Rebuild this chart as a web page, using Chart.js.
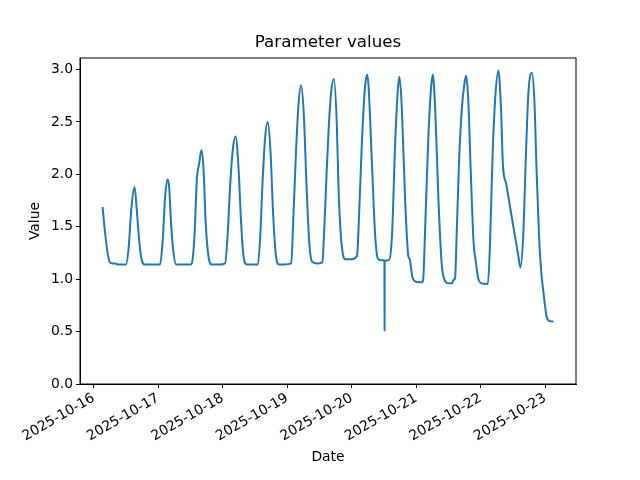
<!DOCTYPE html>
<html>
<head>
<meta charset="utf-8">
<script src="https://cdn.jsdelivr.net/npm/chart.js@4"></script>
<style>
  body { margin: 0; background: #fff; }
</style>
</head>
<body>
<canvas id="chart" width="640" height="480"></canvas>
<script>
// hours after 2025-10-16 00:00
const hours = [
  3.3, 4, 5, 6, 7, 8, 9, 10, 11, 12,
  13, 14, 15.2, 16, 17, 18, 19, 21, 23, 24.7,
  25.7, 26.6, 27.5, 28.1, 28.8, 29.7, 30.7, 33, 36, 36.5,
  37.5, 38.4, 39.3, 40.1, 40.9, 41.7, 42.7, 44, 47, 48.9,
  49.9, 50.8, 51.7, 52.8, 53.9, 54.9, 55.7, 57, 59, 61.1,
  62, 62.8, 63.8, 64.8, 65.8, 66.8, 67.8, 69, 71, 73.5,
  74.3, 75.2, 76.2, 77.2, 78.2, 79.2, 80.2, 81.2, 83, 85.1,
  85.5, 86.5, 87.4, 88.4, 89.4, 90.5, 91.1, 92, 92.9, 93.6,
  96, 98, 98.5, 99.8, 101, 101.8, 102.3, 103.5, 104.7, 105.7,
  107, 108.2, 108.25, 108.3, 109.7, 111, 112.2, 113.2, 113.8, 114.7,
  115.9, 117.1, 117.6, 118.6, 119.6, 121, 122.3, 122.7, 123.3, 124.6,
  125.6, 126.2, 127.1, 128.3, 129.5, 130.8, 132, 133.4, 133.8, 134.5,
  135.1, 136, 137, 138, 138.6, 139.4, 140.4, 141.4, 142.1, 143.1,
  144.4, 146.7, 147.5, 148.4, 149.4, 150.6, 151.6, 152.3, 153.5, 156,
  158, 158.8, 159.9, 160.8, 161.8, 163.1, 164, 164.9, 165.8, 166.5,
  167.4, 168.6, 169.8, 171.1
];
const values = [
  1.69, 1.50, 1.28, 1.16, 1.15, 1.15, 1.14, 1.14, 1.14, 1.14,
  1.30, 1.67, 1.88, 1.67, 1.35, 1.17, 1.14, 1.14, 1.14, 1.14,
  1.38, 1.79, 1.95, 1.87, 1.53, 1.25, 1.14, 1.14, 1.14, 1.15,
  1.41, 1.95, 2.11, 2.23, 2.04, 1.53, 1.22, 1.14, 1.14, 1.15,
  1.45, 1.90, 2.22, 2.36, 2.06, 1.52, 1.23, 1.14, 1.14, 1.14,
  1.42, 1.90, 2.35, 2.50, 2.22, 1.61, 1.23, 1.14, 1.14, 1.15,
  1.58, 2.16, 2.66, 2.85, 2.57, 1.90, 1.36, 1.17, 1.15, 1.16,
  1.30, 1.90, 2.41, 2.79, 2.91, 2.46, 1.88, 1.41, 1.22, 1.19,
  1.19, 1.22, 1.44, 2.30, 2.84, 2.95, 2.84, 2.14, 1.44, 1.20,
  1.18, 1.18, 0.51, 1.17, 1.18, 1.41, 2.30, 2.81, 2.93, 2.62,
  1.76, 1.22, 1.19, 1.02, 0.98, 0.97, 0.97, 1.02, 1.44, 2.39,
  2.84, 2.95, 2.62, 1.76, 1.15, 0.98, 0.96, 0.96, 0.99, 1.01,
  1.44, 2.14, 2.62, 2.87, 2.94, 2.71, 1.98, 1.34, 1.19, 1.01,
  0.96, 0.955, 1.34, 2.14, 2.71, 2.99, 2.62, 2.09, 1.91, 1.53,
  1.23, 1.11, 1.44, 2.14, 2.78, 2.97, 2.71, 1.98, 1.38, 1.09,
  0.87, 0.64, 0.60, 0.595
];
const dateLabels = ['2025-10-16', '2025-10-17', '2025-10-18', '2025-10-19',
                    '2025-10-20', '2025-10-21', '2025-10-22', '2025-10-23'];

const font = { family: 'DejaVu Sans', size: 13.9 };

// matplotlib style box round the plot
const frame = {
  id: 'frame',
  afterDraw(chart) {
    const { ctx, chartArea: a } = chart;
    ctx.save();
    ctx.strokeStyle = '#000';
    ctx.lineWidth = 1;
    ctx.strokeRect(a.left, a.top, a.right - a.left, a.bottom - a.top);
    ctx.restore();
  }
};

new Chart(document.getElementById('chart'), {
  type: 'line',
  data: {
    datasets: [{
      data: hours.map((h, i) => ({ x: h, y: values[i] })),
      borderColor: '#1f77b4',
      borderWidth: 2,
      pointRadius: 0,
      cubicInterpolationMode: 'monotone'
    }]
  },
  options: {
    responsive: false,
    animation: false,
    devicePixelRatio: 1,
    layout: { padding: { left: 0, right: 64, top: 0, bottom: 0 } },
    scales: {
      x: {
        type: 'linear',
        min: -5.1,
        max: 179.5,
        afterFit: s => { s.height = 96; },
        grid: { drawOnChartArea: false, drawTicks: true, tickLength: 4, color: '#000' },
        border: { display: true, color: '#000', width: 1 },
        ticks: {
          stepSize: 24,
          autoSkip: false,
          includeBounds: false,
          minRotation: 30,
          maxRotation: 30,
          padding: 2,
          color: '#000',
          font: font,
          callback: v => dateLabels[v / 24]
        },
        title: { display: true, text: 'Date', color: '#000', font: font, padding: { top: 0, bottom: 14.7 } }
      },
      y: {
        min: 0,
        max: 3.11,
        afterFit: s => { s.width = 80; },
        grid: { drawOnChartArea: false, drawTicks: true, tickLength: 4, color: '#000' },
        border: { display: true, color: '#000', width: 1 },
        ticks: {
          stepSize: 0.5,
          includeBounds: false,
          padding: 3,
          color: '#000',
          font: font,
          callback: v => v.toFixed(1)
        },
        title: { display: true, text: 'Value', color: '#000', font: font, padding: { top: 26.7, bottom: 0 } }
      }
    },
    plugins: {
      legend: { display: false },
      tooltip: { enabled: false },
      title: {
        display: true,
        fullSize: false,
        text: 'Parameter values',
        color: '#000',
        font: { family: 'DejaVu Sans', size: 16.7, weight: 'normal', lineHeight: 1 },
        padding: { top: 34.5, bottom: 6.8 }
      }
    }
  },
  plugins: [frame]
});
</script>
</body>
</html>
